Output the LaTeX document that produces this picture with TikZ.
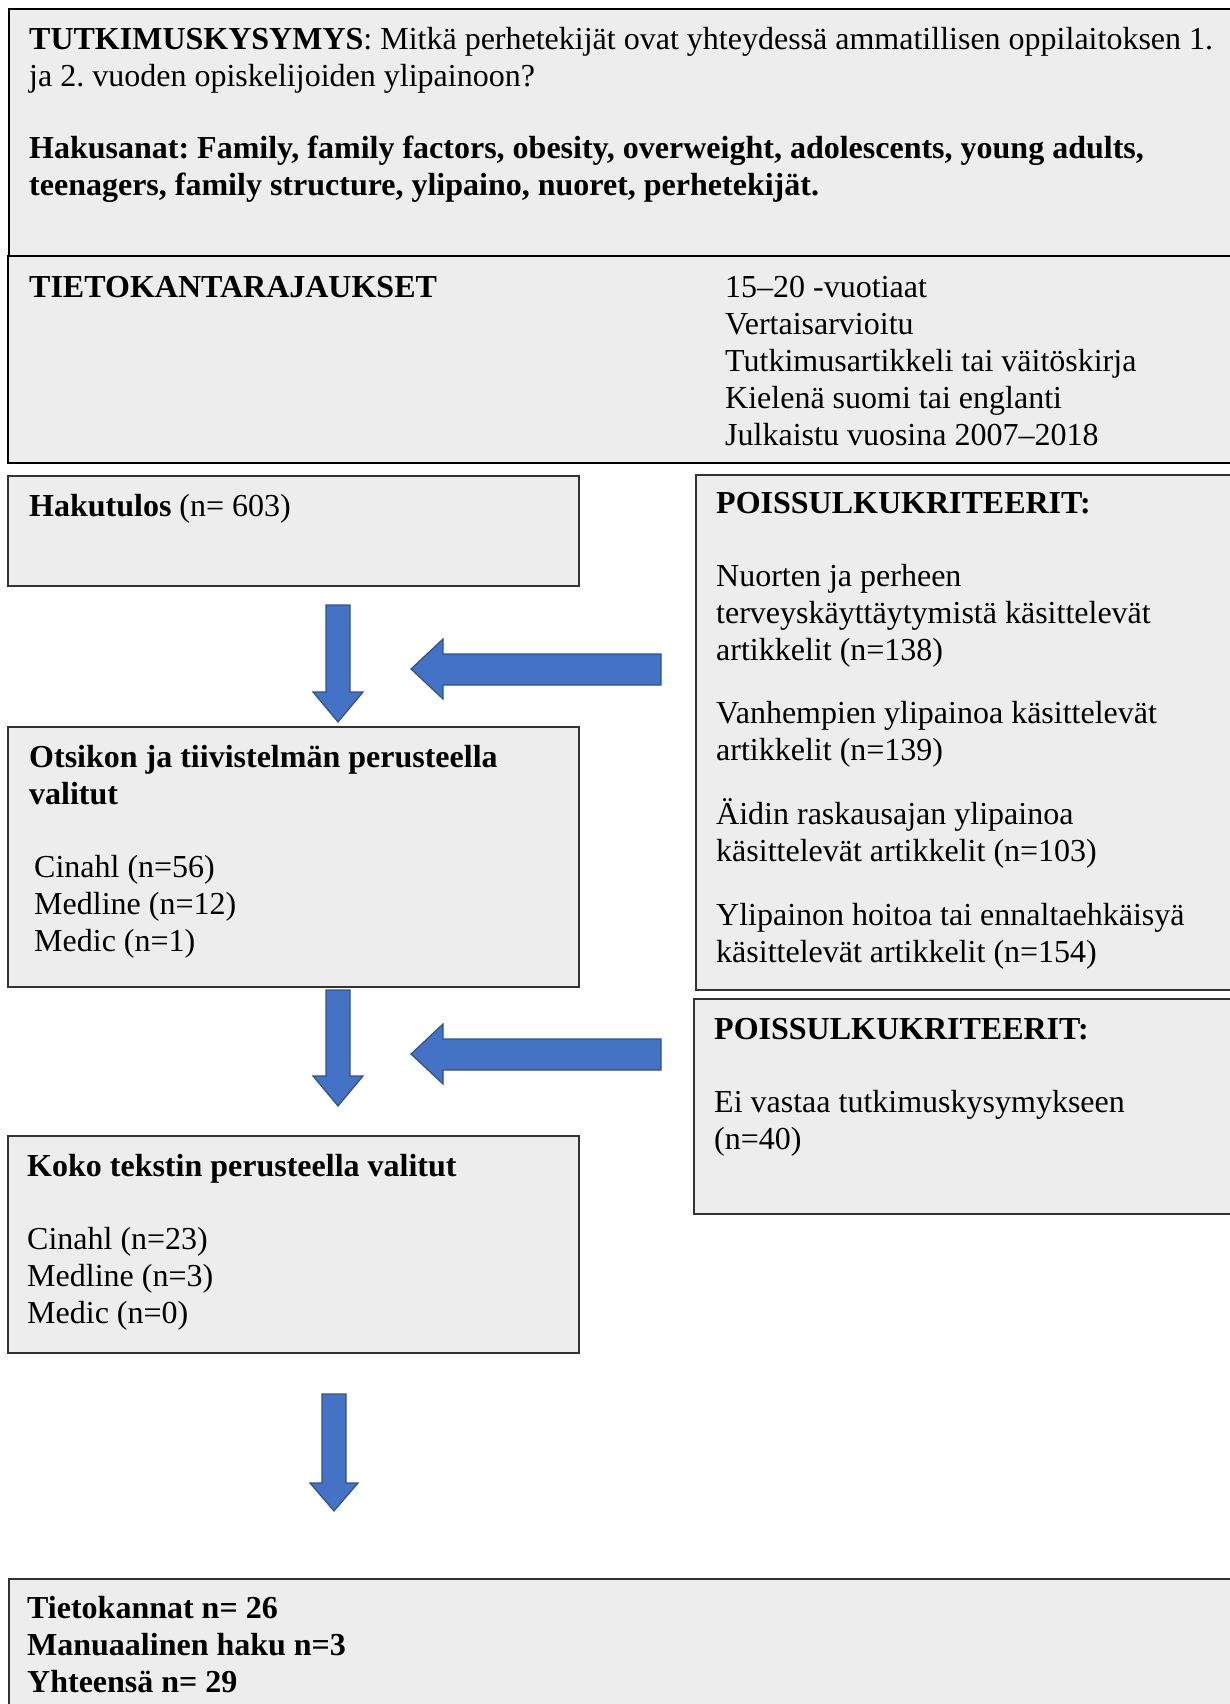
\documentclass[tikz,border=0pt]{standalone}
\usepackage{fontspec}
\setmainfont{Liberation Serif}
\frenchspacing
\definecolor{boxgray}{HTML}{EDEDED}
\definecolor{arrowblue}{HTML}{4472C4}
\definecolor{arrowedge}{HTML}{2F528F}
\begin{document}
\begin{tikzpicture}[x=1pt,y=-1pt,
  box/.style={draw=black!80,line width=1.6pt,fill=boxgray},
  topbox/.style={draw=black,line width=2.6pt,fill=boxgray},
  txt/.style={anchor=base west,inner sep=0pt,align=left,font=\fontsize{32}{37}\selectfont},
  blockarrow/.style={fill=arrowblue,draw=arrowedge,line width=1.2pt,line join=miter}]
\useasboundingbox (0,0) rectangle (1229,1704);
% boxes
\draw[topbox] (9,9) rectangle (1232,256);
\draw[topbox] (8,256) rectangle (1232,463);
\draw[box] (8,476) rectangle (579,586);
\draw[box] (696,475) rectangle (1232,990);
\draw[box] (8,727) rectangle (579,987);
\draw[box] (694,999) rectangle (1232,1214);
\draw[box] (8,1136) rectangle (579,1353);
\draw[box] (9,1579) rectangle (1232,1712);
% texts (anchor = baseline of last line)
\node[txt] (q) at (29,87) {\textbf{TUTKIMUSKYSYMYS}: Mitkä perhetekijät ovat yhteydessä ammatillisen oppilaitoksen 1.\\ja 2. vuoden opiskelijoiden ylipainoon?};
\node[txt] (hs) at (29,196) {\textbf{Hakusanat: Family, family factors, obesity, overweight, adolescents, young adults,}\\\textbf{teenagers, family structure, ylipaino, nuoret, perhetekijät.}};
\node[txt] (tk) at (29,297) {\textbf{TIETOKANTARAJAUKSET}};
\node[txt] (tkr) at (725,445) {15–20 -vuotiaat\\Vertaisarvioitu\\Tutkimusartikkeli tai väitöskirja\\Kielenä suomi tai englanti\\Julkaistu vuosina 2007–2018};
\node[txt] (hk) at (29,516) {\textbf{Hakutulos} (n= 603)};
\node[txt] (p1) at (716,513) {\textbf{POISSULKUKRITEERIT:}};
\node[txt] (p1a) at (716,660) {Nuorten ja perheen\\terveyskäyttäytymistä käsittelevät\\artikkelit (n=138)};
\node[txt] (p1b) at (716,760) {Vanhempien ylipainoa käsittelevät\\artikkelit (n=139)};
\node[txt] (p1c) at (716,861) {Äidin raskausajan ylipainoa\\käsittelevät artikkelit (n=103)};
\node[txt] (p1d) at (716,962) {Ylipainon hoitoa tai ennaltaehkäisyä\\käsittelevät artikkelit (n=154)};
\node[txt] (ot) at (29,804) {\textbf{Otsikon ja tiivistelmän perusteella}\\\textbf{valitut}};
\node[txt] (otl) at (34,951) {Cinahl (n=56)\\Medline (n=12)\\Medic (n=1)};
\node[txt] (p2) at (714,1039) {\textbf{POISSULKUKRITEERIT:}};
\node[txt] (p2a) at (714,1149) {Ei vastaa tutkimuskysymykseen\\(n=40)};
\node[txt] (kk) at (27,1176) {\textbf{Koko tekstin perusteella valitut}};
\node[txt] (kkl) at (27,1323) {Cinahl (n=23)\\Medline (n=3)\\Medic (n=0)};
\node[txt] (tot) at (27,1692) {\textbf{Tietokannat n= 26}\\\textbf{Manuaalinen haku n=3}\\\textbf{Yhteensä n= 29}};
% block arrows
\draw[blockarrow] (326,605) -- (350,605) -- (350,692) -- (363,692) -- (338,722) -- (313,692) -- (326,692) -- cycle;
\draw[blockarrow] (326,990) -- (350,990) -- (350,1076) -- (363,1076) -- (338,1106) -- (313,1076) -- (326,1076) -- cycle;
\draw[blockarrow] (322,1394) -- (346,1394) -- (346,1483) -- (358,1483) -- (334,1511) -- (310,1483) -- (322,1483) -- cycle;
\draw[blockarrow] (661,654) -- (661,685) -- (443,685) -- (443,699) -- (411,669) -- (443,639) -- (443,654) -- cycle;
\draw[blockarrow] (661,1039) -- (661,1070) -- (443,1070) -- (443,1084) -- (411,1054) -- (443,1024) -- (443,1039) -- cycle;
\end{tikzpicture}
\end{document}
